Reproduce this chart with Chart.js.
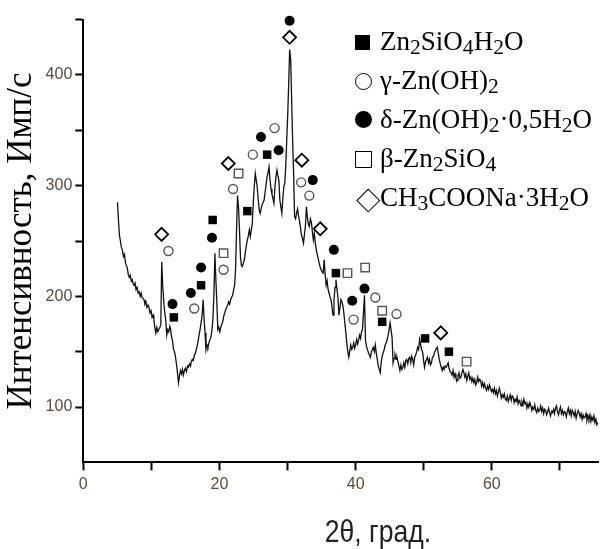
<!DOCTYPE html>
<html><head><meta charset="utf-8">
<script src="https://cdn.jsdelivr.net/npm/chart.js@4"></script>
<style>
html,body{margin:0;padding:0;background:#fff;}
#wrap{position:relative;width:607px;height:549px;overflow:hidden;background:#fff;}
#legend{position:absolute;left:0;top:0;width:607px;height:549px;pointer-events:none;font-family:"Liberation Serif","Times New Roman",serif;font-size:27px;color:#000;}
.row{position:absolute;left:355px;height:30px;line-height:30px;white-space:nowrap;}
.sym{position:absolute;box-sizing:border-box;}
.txt{position:absolute;left:25px;top:0;}
.txt sub{font-size:0.8em;vertical-align:baseline;position:relative;top:0.2em;}
.sqFill{width:15px;height:15px;left:0;top:9px;background:#000;}
.circOpen{width:17px;height:17px;left:0;top:8px;border:1.5px solid #000;border-radius:50%;background:#fff;}
.circFill{width:17px;height:17px;left:0;top:7px;background:#000;border-radius:50%;}
.sqOpen{width:17px;height:17px;left:0;top:8px;border:1.5px solid #000;background:#fff;}
.diamond{width:16.5px;height:16.5px;left:5px;top:10px;border:1.5px solid #000;background:#fff;transform:rotate(45deg);}
</style></head>
<body><div id="wrap"><canvas id="c" width="607" height="549"></canvas><div id="legend"></div></div>
<script>
// ---- data ----
const xTitle = '2θ, град.';
const yTitle = 'Интенсивность, Имп/с';
const xTickValues = [0, 10, 20, 30, 40, 50, 60, 70];
const yTickValues = [100, 150, 200, 250, 300, 350, 400, 450];
const seriesNames = ['Zn₂SiO₄H₂O', 'γ-Zn(OH)₂', 'δ-Zn(OH)₂·0,5H₂O', 'β-Zn₂SiO₄', 'CH₃COONa·3H₂O'];

const twoTheta = [
5.02,5.15,5.31,5.45,5.6,5.74,5.9,6.05,6.2,6.32,6.45,6.6,6.75,6.9,7.05,7.19,7.33,7.47,7.6,7.75,7.9,8.05,8.2,8.35,8.5,8.63,8.78,8.92,9.05,9.2,9.35,9.5,9.64,9.8,9.95,10.1,10.25,10.37,10.5,10.65,10.8,10.95,11.09,11.25,11.38,11.52,11.66,11.8,11.95,12.1,12.25,12.4,12.55,12.7,12.8,12.97,13.1,13.25,13.4,13.55,13.7,13.85,13.98,14.12,14.27,14.42,14.56,14.7,14.85,14.99,15.15,15.3,15.43,15.6,15.75,15.86,16.0,16.15,16.3,16.44,16.6,16.75,16.87,17.0,17.15,17.3,17.45,17.6,17.74,17.88,18.02,18.17,18.31,18.45,18.6,18.74,18.9,19.03,19.18,19.33,19.47,19.6,19.76,19.9,20.05,20.2,20.35,20.48,20.62,20.77,20.9,21.05,21.2,21.35,21.5,21.64,21.78,21.93,22.08,22.22,22.36,22.5,22.65,22.8,22.94,23.08,23.22,23.37,23.5,23.66,23.8,23.95,24.1,24.25,24.39,24.53,24.68,24.82,24.97,25.11,25.26,25.4,25.54,25.7,25.84,25.98,26.12,26.27,26.42,26.56,26.7,26.85,26.99,27.14,27.28,27.43,27.57,27.71,27.86,28.0,28.15,28.3,28.44,28.58,28.72,28.87,29.01,29.16,29.3,29.45,29.59,29.74,29.88,30.03,30.17,30.31,30.46,30.6,30.75,30.89,31.03,31.18,31.32,31.47,31.61,31.76,31.9,32.05,32.2,32.34,32.48,32.63,32.77,32.92,33.06,33.2,33.35,33.5,33.65,33.79,33.93,34.08,34.22,34.36,34.5,34.65,34.8,34.94,35.08,35.23,35.38,35.52,35.67,35.81,35.96,36.1,36.25,36.39,36.53,36.68,36.82,36.97,37.11,37.25,37.4,37.55,37.7,37.84,37.98,38.12,38.27,38.41,38.56,38.7,38.85,38.99,39.14,39.28,39.43,39.57,39.72,39.86,40.0,40.15,40.3,40.44,40.58,40.73,40.87,41.0,41.15,41.3,41.44,41.58,41.73,41.88,42.02,42.17,42.31,42.46,42.6,42.75,42.89,43.03,43.18,43.33,43.47,43.62,43.76,43.9,44.05,44.2,44.34,44.49,44.63,44.78,44.92,45.06,45.2,45.35,45.5,45.64,45.78,45.93,46.07,46.22,46.36,46.5,46.65,46.8,46.94,47.08,47.22,47.37,47.5,47.66,47.8,47.95,48.1,48.24,48.39,48.53,48.68,48.82,48.97,49.11,49.25,49.4,49.55,49.69,49.83,49.98,50.12,50.27,50.41,50.55,50.7,50.84,50.98,51.14,51.28,51.43,51.57,51.72,51.86,52.0,52.15,52.29,52.43,52.58,52.72,52.87,53.01,53.15,53.3,53.45,53.59,53.73,53.88,54.02,54.17,54.31,54.45,54.6,54.74,54.89,55.03,55.18,55.32,55.47,55.61,55.76,55.9,56.04,56.19,56.33,56.48,56.62,56.77,56.92,57.06,57.2,57.35,57.5,57.64,57.78,57.93,58.07,58.22,58.36,58.5,58.65,58.79,58.94,59.08,59.23,59.37,59.52,59.66,59.81,59.95,60.1,60.24,60.39,60.53,60.68,60.82,60.97,61.11,61.25,61.4,61.54,61.69,61.83,61.98,62.12,62.27,62.41,62.56,62.7,62.85,62.99,63.13,63.28,63.42,63.57,63.71,63.86,64.0,64.14,64.29,64.43,64.58,64.72,64.87,65.0,65.15,65.3,65.44,65.59,65.73,65.88,66.0,66.17,66.31,66.46,66.6,66.75,66.89,67.04,67.18,67.33,67.47,67.62,67.76,67.9,68.05,68.2,68.34,68.48,68.63,68.78,68.92,69.07,69.21,69.36,69.5,69.65,69.8,69.93,70.08,70.22,70.37,70.51,70.66,70.8,70.95,71.09,71.24,71.38,71.52,71.67,71.81,71.96,72.1,72.25,72.39,72.54,72.68,72.82,72.97,73.11,73.26,73.4,73.55,73.69,73.84,73.98,74.13,74.27,74.42,74.56,74.7,74.85,75.0,75.14,75.29,75.43,75.6
];
const intensity = [
285,270,255,250,244,242,236,238,230,228,226,220,217,219,214,215,211,210,212,206,208,203,204,200,203,199,198,197,193,195,190,192,190,185,187,181,183,179,172,167,172,168,170,172,174,231,210,197,186,179,165,170,168,173,171,163,160,152,150,145,138,130,122,128,133,130,134,129,133,135,132,137,136,139,137,141,143,142,147,148,152,156,160,165,170,176,183,197,180,167,152,156,154,158,161,163,170,179,200,239,215,197,170,172,168,172,175,177,182,185,188,190,192,195,193,197,199,201,206,210,224,258,291,280,260,236,228,227,230,233,240,246,251,255,260,254,260,266,285,299,311,305,299,287,278,275,279,283,285,287,294,301,308,312,317,305,297,292,288,284,299,308,314,309,305,287,281,275,288,299,302,318,341,365,393,423,414,377,340,311,272,270,275,279,273,268,262,255,252,248,256,264,281,271,265,263,270,267,258,251,257,248,242,238,234,230,226,224,222,221,233,220,210,214,206,203,199,197,190,183,196,208,215,207,199,183,190,197,195,192,185,176,167,158,150,145,151,156,152,154,158,153,156,161,157,161,165,162,168,170,185,201,161,155,152,149,147,145,150,152,154,150,156,149,143,137,134,131,141,146,149,152,156,158,161,165,170,176,170,163,140,144,147,143,145,141,137,133,138,134,136,140,136,142,143,139,144,145,140,146,143,138,145,147,150,154,152,161,156,152,150,142,136,141,143,145,140,143,138,140,145,146,149,151,153,154,148,143,139,136,133,136,134,137,136,138,140,135,132,131,129,133,127,130,126,124,128,131,126,127,131,134,131,127,130,124,128,131,125,127,123,126,122,125,120,122,127,123,125,124,119,122,118,121,117,115,119,116,120,117,114,116,113,117,112,115,110,114,117,113,108,111,109,112,107,106,110,105,108,111,106,110,109,104,107,105,109,103,106,104,101,105,102,107,103,104,99,103,100,104,101,97,100,98,102,97,95,99,96,97,101,96,99,94,98,97,93,96,99,95,92,96,95,98,94,99,101,96,93,97,100,94,97,93,96,95,91,96,99,94,97,92,97,95,92,96,90,94,97,95,91,94,89,93,90,91,94,88,92,89,93,87,91,88,92,86,89,84,86
];

// marker series (2θ, intensity)
const znSiO4H2O_x = [13.3, 17.3, 19.0, 24.1, 27.0, 37.1, 43.9, 50.2, 53.7];
const znSiO4H2O_y = [181, 210, 269, 277, 328, 221, 177, 162, 150];
const gammaZnOH2_x = [12.5, 16.3, 20.6, 22.0, 24.9, 28.1, 32.0, 33.2, 39.7, 42.9, 46.0];
const gammaZnOH2_y = [241, 189, 224, 297, 328, 352, 303, 291, 179, 199, 184];
const deltaZnOH2_x = [13.1, 15.8, 17.3, 18.9, 26.1, 28.7, 30.3, 33.7, 36.8, 39.5, 41.3];
const deltaZnOH2_y = [193, 203, 226, 253, 344, 332, 449, 305, 242, 196, 207];
const betaZn2SiO4_x = [20.6, 22.8, 38.8, 41.4, 43.9, 56.3];
const betaZn2SiO4_y = [239, 311, 221, 226, 187, 141];
const naAcetate_x = [11.5, 21.3, 30.3, 32.1, 34.8, 52.5];
const naAcetate_y = [256, 320, 434, 323, 261, 167];

// ---- build ----
const pts = (xs, ys) => xs.map((x, i) => ({x: x, y: ys[i]}));
const tickColor = '#5b4a3c';
const tickFont = {family: '"Liberation Sans", Arial, sans-serif', size: 16};

const xTitlePlugin = {
  id: 'xTitle',
  afterDraw(chart) {
    const c = chart.ctx;
    c.save();
    c.font = '32px "Liberation Sans", Arial, sans-serif';
    c.fillStyle = '#222';
    c.textAlign = 'center';
    c.textBaseline = 'alphabetic';
    c.translate(378, 542);
    c.scale(0.83, 1);
    c.fillText(xTitle, 0, 0);
    c.restore();
  }
};

new Chart(document.getElementById('c'), {
  type: 'scatter',
  data: {
    datasets: [
      {label: 'XRD', data: pts(twoTheta, intensity), showLine: true, borderColor: '#111', borderWidth: 1.3, pointRadius: 0, pointHoverRadius: 0, order: 10},
      {label: seriesNames[0], data: pts(znSiO4H2O_x, znSiO4H2O_y), pointStyle: 'rect', pointRadius: 6, backgroundColor: '#000', borderColor: '#000', borderWidth: 0, order: 1, clip: false},
      {label: seriesNames[1], data: pts(gammaZnOH2_x, gammaZnOH2_y), pointStyle: 'circle', pointRadius: 4.5, backgroundColor: '#fff', borderColor: '#555', borderWidth: 1.4, order: 1, clip: false},
      {label: seriesNames[2], data: pts(deltaZnOH2_x, deltaZnOH2_y), pointStyle: 'circle', pointRadius: 5, backgroundColor: '#000', borderColor: '#000', borderWidth: 0, order: 1, clip: false},
      {label: seriesNames[3], data: pts(betaZn2SiO4_x, betaZn2SiO4_y), pointStyle: 'rect', pointRadius: 6, backgroundColor: '#fff', borderColor: '#555', borderWidth: 1.4, order: 1, clip: false},
      {label: seriesNames[4], data: pts(naAcetate_x, naAcetate_y), pointStyle: 'rectRot', pointRadius: 6.5, backgroundColor: '#fff', borderColor: '#000', borderWidth: 1.8, order: 1, clip: false}
    ]
  },
  options: {
    responsive: false,
    devicePixelRatio: 1,
    animation: false,
    events: [],
    layout: {padding: {top: 19.6, left: 0, right: 0, bottom: 0}},
    plugins: {legend: {display: false}, tooltip: {enabled: false}},
    scales: {
      x: {
        type: 'linear', min: 0, max: 75.7,
        afterBuildTicks: s => { s.ticks = xTickValues.map(v => ({value: v})); },
        afterFit: s => { s.height = 86.6; },
        ticks: {callback: v => (v % 20 === 0 ? String(v) : ''), font: tickFont, color: tickColor, padding: 5, maxRotation: 0, autoSkip: false},
        grid: {drawOnChartArea: false, drawTicks: true, tickLength: 8, tickWidth: 2, tickColor: '#000'},
        border: {display: true, color: '#000', width: 2}
      },
      y: {
        type: 'linear', min: 50, max: 450,
        afterBuildTicks: s => { s.ticks = yTickValues.map(v => ({value: v})); },
        afterFit: s => { s.width = 83.3; },
        ticks: {callback: v => (v % 100 === 0 && v < 450 ? String(v) : ''), font: tickFont, color: tickColor, padding: 3, autoSkip: false},
        grid: {drawOnChartArea: false, drawTicks: true, tickLength: 8, tickWidth: 2, tickColor: '#000'},
        border: {display: true, color: '#000', width: 2},
        title: {display: true, text: yTitle, color: '#000', font: {family: '"Liberation Serif", "Times New Roman", serif', size: 35}, padding: {top: 1, bottom: 0}}
      }
    }
  },
  plugins: [xTitlePlugin]
});

// HTML legend (text glyph symbols like the reference)
const legendSymbols = ['sqFill', 'circOpen', 'circFill', 'sqOpen', 'diamond'];
const toSub = s => s.replace(/[\u2080-\u2089]/g, ch => '<sub>' + (ch.charCodeAt(0) - 0x2080) + '</sub>');
const legendEl = document.getElementById('legend');
seriesNames.forEach((name, i) => {
  const row = document.createElement('div');
  row.className = 'row';
  row.style.top = (50 + i * 39 - 24) + 'px';
  row.innerHTML = '<span class="sym ' + legendSymbols[i] + '"></span><span class="txt">' + toSub(name) + '</span>';
  legendEl.appendChild(row);
});
</script>
</body></html>
